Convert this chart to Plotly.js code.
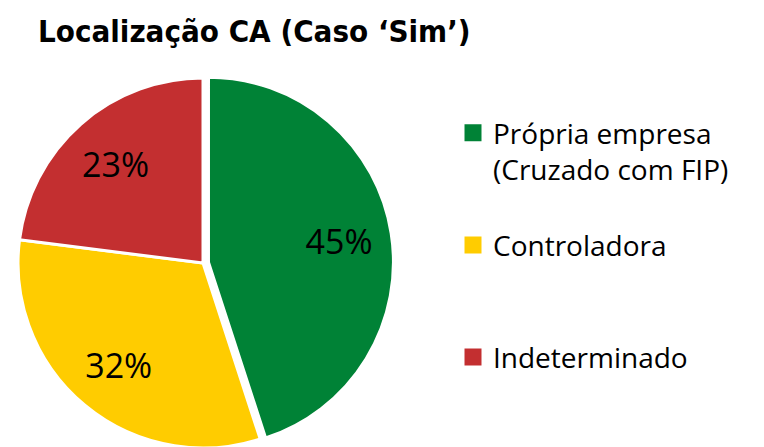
<!DOCTYPE html>
<html>
<head>
<meta charset="utf-8">
<script src="https://cdn.plot.ly/plotly-3.0.1.min.js"></script>
<style>html,body{margin:0;padding:0;background:#fff;overflow:hidden}</style>
</head>
<body>
<div id="chart" style="width:764px;height:460px"></div>
<script>
var categories = ["Própria empresa<br>(Cruzado com FIP)<br> ", "Controladora<br> <br> ", "Indeterminado"];
var values = [45, 32, 23];
var colors = ["#008236", "#FFCC00", "#C32F30"];
var pulls = [0.03, 0, 0];

var W = 764, H = 460;
var dom = {x: [12.5 / W, 393.5 / W], y: [0, 1]};
var data = [{
  type: "pie",
  labels: categories,
  values: values,
  sort: false,
  direction: "clockwise",
  rotation: 0,
  pull: pulls,
  marker: {colors: colors, line: {color: "#ffffff", width: 3}},
  textinfo: "none",
  hoverinfo: "label+percent",
  domain: dom
}, {
  type: "pie",
  labels: categories,
  values: values,
  sort: false,
  direction: "clockwise",
  rotation: 0,
  pull: pulls,
  hole: 0.43,
  showlegend: false,
  marker: {colors: ["rgba(0,0,0,0)", "rgba(0,0,0,0)", "rgba(0,0,0,0)"], line: {width: 0}},
  textinfo: "percent",
  texttemplate: "%{percent:.0%}",
  textposition: "inside",
  insidetextorientation: "horizontal",
  insidetextfont: {family: "'Open Sans', Lato, sans-serif", size: 34, color: "#000000"},
  hoverinfo: "skip",
  domain: dom
}];
var layout = {
  width: W, height: H,
  margin: {l: 0, r: 0, t: 72, b: 6, autoexpand: false},
  paper_bgcolor: "#ffffff",
  showlegend: true,
  title: {
    text: "Localização CA (Caso ‘Sim’)",
    font: {family: "'DejaVu Sans Condensed', 'DejaVu Sans', sans-serif", size: 31, color: "#000000", weight: "bold"},
    x: 38 / W, xanchor: "left", xref: "container",
    y: 1 - 31 / H, yanchor: "middle", yref: "container",
    automargin: false
  },
  legend: {
    x: 453 / W, xanchor: "left", xref: "container",
    y: 1 - 108 / H, yanchor: "top", yref: "container",
    valign: "top",
    maxheight: 440,
    font: {family: "'Open Sans', Lato, sans-serif", size: 28, color: "#000000"},
    bgcolor: "rgba(0,0,0,0)", borderwidth: 0
  }
};
Plotly.newPlot("chart", data, layout, {displayModeBar: false, staticPlot: true}).then(function (gd) {
  var pts = gd.querySelectorAll(".legendpoints path");
  pts.forEach(function (p) {
    p.setAttribute("d", "M10,10H-10V-10H10Z");
  });
});
</script>
</body>
</html>
